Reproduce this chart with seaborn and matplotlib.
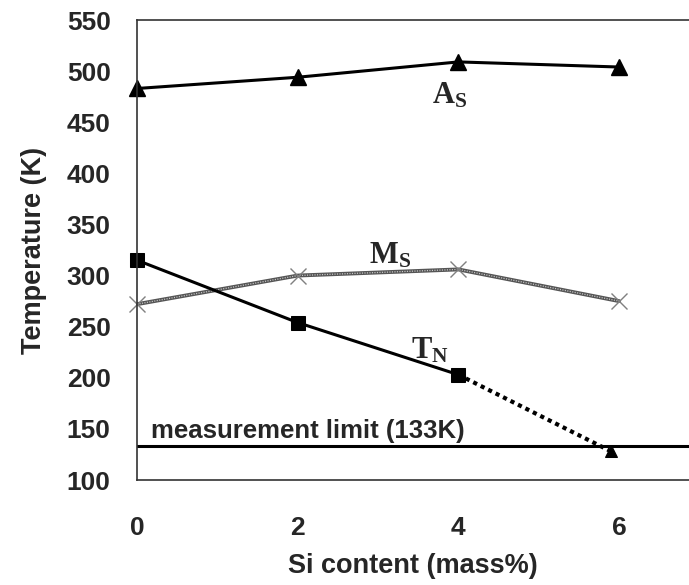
import matplotlib
matplotlib.use("Agg")
import matplotlib.pyplot as plt
import seaborn as sns
import pandas as pd

# ---- data ----
si = [0, 2, 4, 6]
a_s = [483, 494, 509, 504]
m_s = [272, 300, 306, 275]
t_n_x = [0, 2, 4]
t_n = [315, 254, 203]
t_n_ext_x = [4, 5.9]
t_n_ext = [203, 128]
limit = 133
xticks = [0, 2, 4, 6]
yticks = [100, 150, 200, 250, 300, 350, 400, 450, 500, 550]

sns.set_theme(style="white")
plt.rcParams["font.family"] = ["Liberation Sans", "DejaVu Sans"]
plt.rcParams["mathtext.fontset"] = "custom"
plt.rcParams["mathtext.bf"] = "Liberation Serif:bold"
plt.rcParams["mathtext.rm"] = "Liberation Serif:bold"

fig = plt.figure(figsize=(6.89, 5.85), dpi=100)
ax = fig.add_axes([137 / 689, 105 / 585, 1 - 137 / 689, 460 / 585])

# A_S
sns.lineplot(x=si, y=a_s, ax=ax, color="black", lw=2.2, marker="^",
             markersize=11, markeredgecolor="black", markeredgewidth=1,
             sort=False, estimator=None, clip_on=False)
# M_S (grey chain-like line)
sns.lineplot(x=si, y=m_s, ax=ax, color="#555555", lw=2.8, sort=False,
             estimator=None)
sns.lineplot(x=si, y=m_s, ax=ax, color="#c8c8c8", lw=0.9, sort=False,
             estimator=None)
ax.lines[-1].set_linestyle((0, (0.9, 1.1)))
sns.lineplot(x=si, y=m_s, ax=ax, color="#808080", lw=0, marker="x",
             markersize=12, markeredgewidth=1.0, markeredgecolor="#808080",
             sort=False, estimator=None, clip_on=False)
# T_N
sns.lineplot(x=t_n_ext_x, y=t_n_ext, ax=ax, color="black", lw=3.0,
             sort=False, estimator=None)
ax.lines[-1].set_linestyle((0, (1, 1)))
sns.lineplot(x=t_n_ext_x[1:], y=t_n_ext[1:], ax=ax, color="black", lw=0,
             marker="^", markersize=9, markeredgecolor="black",
             sort=False, estimator=None)
sns.lineplot(x=t_n_x, y=t_n, ax=ax, color="black", lw=2.2, marker="s",
             markersize=10, markeredgecolor="black", sort=False,
             estimator=None, clip_on=False)

# measurement limit
ax.axhline(limit, color="black", lw=2.2, zorder=1)
ax.text(0.17, 141, "measurement limit (133K)", fontsize=18.5,
        fontweight="bold", ha="left", va="baseline")

# labels
ax.text(3.89, 468, r"$\mathbf{A_S}$", fontsize=22, ha="center", va="baseline")
ax.text(3.15, 312, r"$\mathbf{M_S}$", fontsize=22, ha="center", va="baseline")
ax.text(3.65, 219, r"$\mathbf{T_N}$", fontsize=22, ha="center", va="baseline")

ax.set_xlim(0, 6.87)
ax.set_ylim(100, 550)
ax.set_xticks(xticks)
ax.set_yticks(yticks)
ax.set_xticklabels([str(v) for v in xticks], fontsize=19, fontweight="bold")
ax.set_yticklabels([str(v) for v in yticks], fontsize=19, fontweight="bold")
ax.tick_params(axis="both", direction="in", length=10, width=1, color="#444444")
ax.tick_params(axis="x", pad=26)
ax.tick_params(axis="y", pad=19)
ax.set_xlabel("Si content (mass%)", fontsize=19.5, fontweight="bold",
              labelpad=9)
ax.set_ylabel("Temperature (K)", fontsize=19.5, fontweight="bold",
              labelpad=14)

for s in ["left", "bottom", "top"]:
    ax.spines[s].set_visible(True)
    ax.spines[s].set_color("#333333")
    ax.spines[s].set_linewidth(1.2)
ax.spines["right"].set_visible(False)
ax.set_facecolor("white")
fig.patch.set_facecolor("white")

fig.savefig("out.png", dpi=100)
